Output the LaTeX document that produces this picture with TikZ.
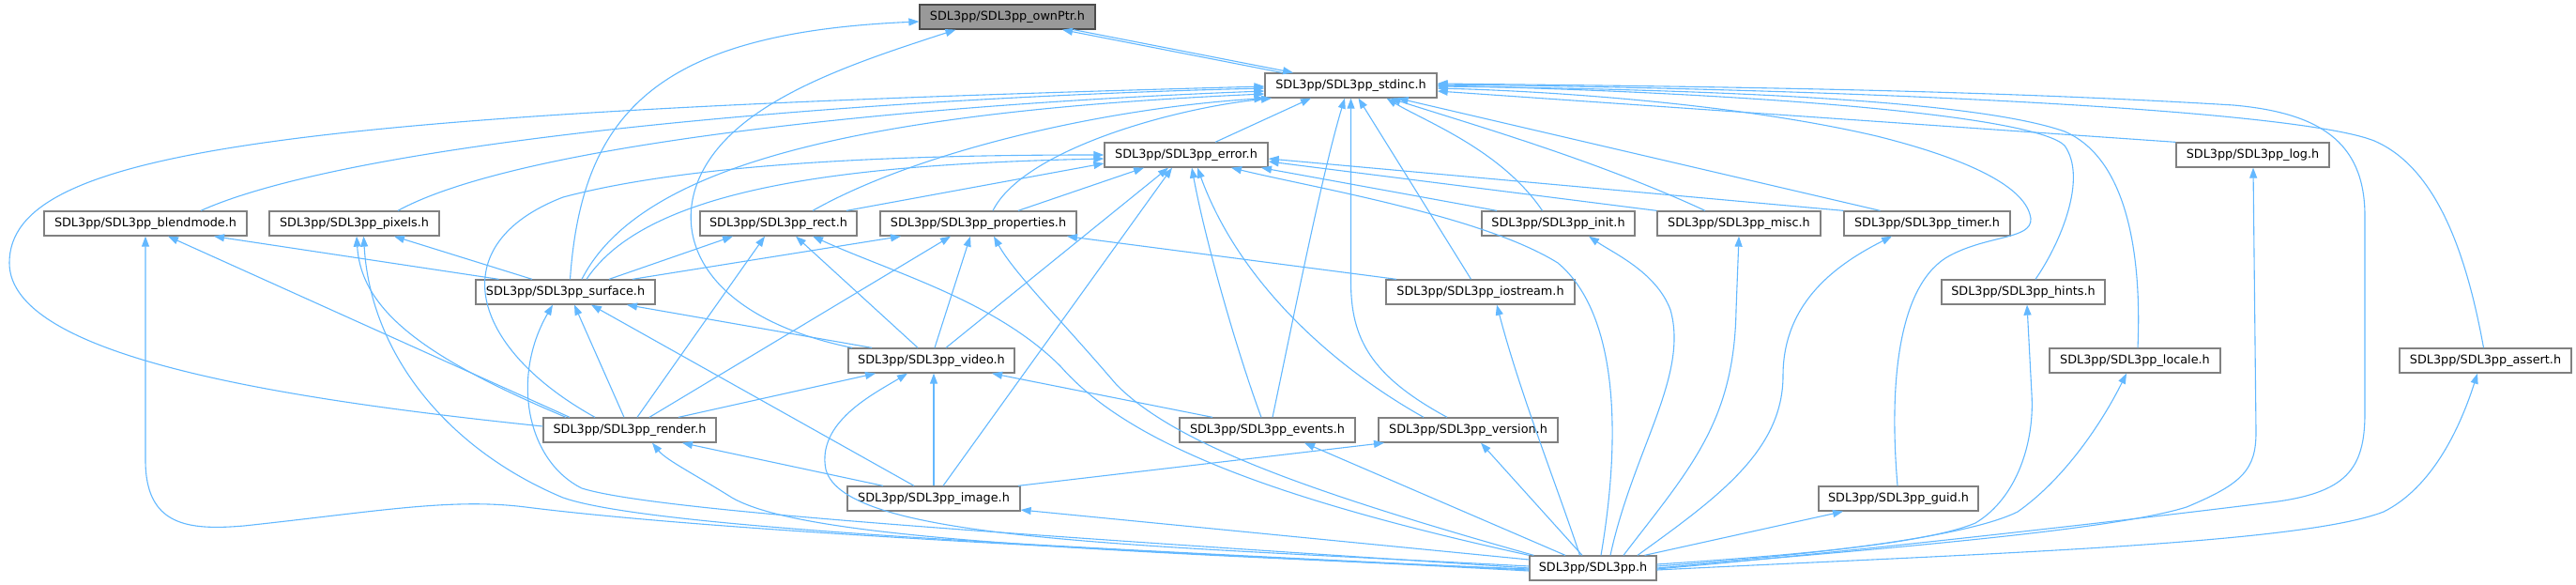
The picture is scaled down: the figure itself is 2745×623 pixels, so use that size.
\documentclass[tikz,border=0pt]{standalone}
\usepackage{fontspec}
\setmainfont{DejaVu Sans}
\usetikzlibrary{arrows.meta}
\definecolor{edgeblue}{HTML}{63B8FF}
\definecolor{boxgray}{HTML}{808080}
\definecolor{rootfill}{HTML}{999999}
\tikzset{
  hbox/.style={draw=boxgray, fill=white, line width=1.3pt, minimum height=26pt, inner sep=0pt, font=\fontsize{12.8}{15}\selectfont},
  rootbox/.style={hbox, fill=rootfill, draw=gray!60!black},
  e/.style={draw=edgeblue, line width=1.1pt, -{Triangle[length=11pt,width=8pt]}},
}
\begin{document}
\begin{tikzpicture}[x=1pt,y=-1pt]
\useasboundingbox (0,0) rectangle (2745,623);
% nodes
\node[rootbox, minimum width=187pt] (ownPtr) at (1073.5,18) {SDL3pp/SDL3pp\_ownPtr.h};
\node[hbox, minimum width=183pt] (stdinc) at (1439.5,91) {SDL3pp/SDL3pp\_stdinc.h};
\node[hbox, minimum width=174pt] (error) at (1264,165) {SDL3pp/SDL3pp\_error.h};
\node[hbox, minimum width=163pt] (log) at (2400.5,165) {SDL3pp/SDL3pp\_log.h};
\node[hbox, minimum width=216pt] (blendmode) at (155,238) {SDL3pp/SDL3pp\_blendmode.h};
\node[hbox, minimum width=181pt] (pixels) at (377.5,238) {SDL3pp/SDL3pp\_pixels.h};
\node[hbox, minimum width=167pt] (rect) at (829.5,238) {SDL3pp/SDL3pp\_rect.h};
\node[hbox, minimum width=209pt] (properties) at (1042.5,238) {SDL3pp/SDL3pp\_properties.h};
\node[hbox, minimum width=163pt] (init) at (1660.5,238) {SDL3pp/SDL3pp\_init.h};
\node[hbox, minimum width=174pt] (misc) at (1853,238) {SDL3pp/SDL3pp\_misc.h};
\node[hbox, minimum width=177pt] (timer) at (2053.5,238) {SDL3pp/SDL3pp\_timer.h};
\node[hbox, minimum width=191pt] (surface) at (602.5,311) {SDL3pp/SDL3pp\_surface.h};
\node[hbox, minimum width=201pt] (iostream) at (1577.5,311) {SDL3pp/SDL3pp\_iostream.h};
\node[hbox, minimum width=174pt] (hints) at (2156,311) {SDL3pp/SDL3pp\_hints.h};
\node[hbox, minimum width=177pt] (video) at (992.5,384) {SDL3pp/SDL3pp\_video.h};
\node[hbox, minimum width=182pt] (locale) at (2275,384) {SDL3pp/SDL3pp\_locale.h};
\node[hbox, minimum width=183pt] (assert) at (2648.5,384) {SDL3pp/SDL3pp\_assert.h};
\node[hbox, minimum width=184pt] (render) at (671,458) {SDL3pp/SDL3pp\_render.h};
\node[hbox, minimum width=187pt] (events) at (1350.5,458) {SDL3pp/SDL3pp\_events.h};
\node[hbox, minimum width=191pt] (version) at (1564.5,458) {SDL3pp/SDL3pp\_version.h};
\node[hbox, minimum width=184pt] (image) at (995,531) {SDL3pp/SDL3pp\_image.h};
\node[hbox, minimum width=170pt] (guid) at (2023,531) {SDL3pp/SDL3pp\_guid.h};
\node[hbox, minimum width=135pt] (sdl) at (1697.5,605) {SDL3pp/SDL3pp.h};

% ownPtr / stdinc
\draw[e] ([xshift=-73.5pt]stdinc.north) -- ([xshift=58.5pt]ownPtr.south);
\draw[e] ([xshift=70.5pt]ownPtr.south) -- ([xshift=-61.5pt]stdinc.north);
\draw[e] ([xshift=5pt]surface.north) .. controls (620,120) and (700,35) .. ([yshift=-5pt]ownPtr.west);
\draw[e] ([xshift=-84.5pt]video.north) .. controls (760,340) and (715,260) .. (745,190) .. controls (780,110) and (900,70) .. ([xshift=-55pt]ownPtr.south);

% to stdinc
\draw[e] ([yshift=4pt]render.west) .. controls (300,425) and (10,380) .. (10,280) .. controls (10,160) and (300,120) .. ([yshift=-1pt]stdinc.west);
\draw[e] ([xshift=59pt]blendmode.north) .. controls (380,150) and (900,105) .. ([yshift=-3pt]stdinc.west);
\draw[e] ([xshift=46.5pt]pixels.north) .. controls (560,150) and (1000,110) .. ([yshift=-6pt]stdinc.west);
\draw[e] ([xshift=17.5pt]surface.north) .. controls (680,180) and (900,120) .. ([yshift=-9pt]stdinc.west);
\draw[e] ([xshift=36.5pt]rect.north) .. controls (980,160) and (1180,115) .. (stdinc.south west);
\draw[e] ([xshift=15.5pt]properties.north) .. controls (1090,160) and (1250,115) .. ([xshift=-84.5pt]stdinc.south);
\draw[e] ([xshift=31pt]error.north) -- ([xshift=-42.5pt]stdinc.south);
\draw[e] ([xshift=5.5pt]events.north) .. controls (1380,330) and (1410,180) .. ([xshift=-6.5pt]stdinc.south);
\draw[e] ([xshift=-22.5pt]version.north) .. controls (1460,400) and (1439.5,360) .. (1439.5,300) -- (stdinc.south);
\draw[e] ([xshift=-10pt]iostream.north) -- ([xshift=8pt]stdinc.south);
\draw[e] ([xshift=-17pt]init.north) .. controls (1600,160) and (1520,130) .. ([xshift=38pt]stdinc.south);
\draw[e] ([xshift=-36pt]misc.north) .. controls (1700,170) and (1560,130) .. ([xshift=42pt]stdinc.south);
\draw[e] ([xshift=-50pt]timer.north) -- ([xshift=50pt]stdinc.south);
\draw[e] (log.north west) -- ([yshift=-6pt]stdinc.east);
\draw[e] ([xshift=13pt]hints.north) .. controls (2195,260) and (2225,190) .. (2200,155) .. controls (2170,125) and (1900,100) .. (stdinc.east);
\draw[e] ([xshift=3pt]locale.north) .. controls (2282,280) and (2270,170) .. (2200,140) .. controls (2100,105) and (1800,95) .. ([yshift=-1pt]stdinc.east);
\draw[e] ([yshift=-1pt]sdl.east) .. controls (2000,585) and (2300,550) .. (2420,535) .. controls (2500,525) and (2520,500) .. (2520,440) -- (2520,230) .. controls (2520,150) and (2470,120) .. (2380,112) .. controls (2100,95) and (1800,92) .. ([yshift=2pt]stdinc.east);
\draw[e] ([xshift=-2pt]assert.north) .. controls (2630,280) and (2600,180) .. (2530,150) .. controls (2450,118) and (2000,95) .. ([yshift=1pt]stdinc.east);
\draw[e] ([xshift=-1pt]guid.north) .. controls (2012,400) and (2025,300) .. (2078,272) .. controls (2120,250) and (2165,255) .. (2164,233) .. controls (2160,200) and (2100,170) .. (2000,145) .. controls (1850,110) and (1650,97) .. ([yshift=-3pt]stdinc.east);

% to error
\draw[e] ([xshift=72.5pt]rect.north) -- ([yshift=-9pt]error.west);
\draw[e] ([xshift=42.5pt]properties.north) -- ([xshift=-45pt]error.south);
\draw[e] ([xshift=22.5pt]surface.north) .. controls (690,200) and (900,175) .. ([yshift=-4pt]error.west);
\draw[e] ([xshift=-37pt]render.north) .. controls (500,370) and (470,260) .. (600,210) .. controls (750,170) and (1000,165) .. (error.west);
\draw[e] ([xshift=15.5pt]video.north) -- ([xshift=-19pt]error.south);
\draw[e] ([xshift=10pt]image.north) -- ([xshift=-15pt]error.south);
\draw[e] ([xshift=-6.5pt]events.north) .. controls (1320,380) and (1285,260) .. ([xshift=6pt]error.south);
\draw[e] ([xshift=-47.5pt]version.north) .. controls (1420,390) and (1320,300) .. ([xshift=12pt]error.south);
\draw[e] ([xshift=-65.5pt]init.north) -- ([xshift=80pt]error.south);
\draw[e] (misc.north west) -- ([yshift=-7pt]error.east);
\draw[e] (timer.north west) -- ([yshift=-4pt]error.east);
\draw[e] ([xshift=8.5pt]sdl.north) .. controls (1730,450) and (1720,330) .. (1660,280) .. controls (1580,230) and (1400,200) .. ([xshift=48pt]error.south);

% to blendmode
\draw[e] ([xshift=-71pt]surface.north) -- ([xshift=73pt]blendmode.south);
\draw[e] ([xshift=-64pt]render.north) -- ([xshift=24pt]blendmode.south);
\draw[e] ([yshift=-3pt]sdl.west) .. controls (1300,590) and (800,570) .. (560,540) .. controls (480,530) and (400,545) .. (260,560) .. controls (200,565) and (155,560) .. (155,490) -- (blendmode.south);

% to pixels
\draw[e] ([xshift=-35.5pt]surface.north) -- ([xshift=42.5pt]pixels.south);
\draw[e] ([xshift=-68pt]render.north) .. controls (450,380) and (385,330) .. ([xshift=2.5pt]pixels.south);
\draw[e] ([yshift=-2pt]sdl.west) .. controls (1200,585) and (700,565) .. (600,530) .. controls (480,480) and (395,380) .. ([xshift=10pt]pixels.south);

% to rect
\draw[e] ([xshift=46.5pt]surface.north) -- ([xshift=-48.5pt]rect.south);
\draw[e] ([xshift=8pt]render.north) -- ([xshift=-14.5pt]rect.south);
\draw[e] ([xshift=-14.5pt]video.north) -- ([xshift=18.5pt]rect.south);
\draw[e] (sdl.north west) .. controls (1350,530) and (1200,470) .. (1130,390) .. controls (1060,320) and (950,290) .. ([xshift=36.5pt]rect.south);

% to properties
\draw[e] ([xshift=71.5pt]surface.north) -- ([xshift=-82.5pt]properties.south);
\draw[e] ([xshift=21pt]render.north) -- ([xshift=-29.5pt]properties.south);
\draw[e] ([xshift=3.5pt]video.north) -- ([xshift=-8.5pt]properties.south);
\draw[e] ([xshift=-89.5pt]iostream.north) -- ([xshift=94.5pt]properties.south);
\draw[e] ([xshift=5pt]sdl.north west) .. controls (1380,520) and (1250,470) .. (1190,410) .. controls (1130,340) and (1080,290) .. ([xshift=16.5pt]properties.south);

% to surface
\draw[e] ([xshift=-6pt]render.north) -- ([xshift=9.5pt]surface.south);
\draw[e] ([xshift=-63.5pt]video.north) -- ([xshift=65.5pt]surface.south);
\draw[e] ([xshift=-21pt]image.north) -- ([xshift=27.5pt]surface.south);
\draw[e] (sdl.west) .. controls (1100,570) and (700,545) .. (620,520) .. controls (560,490) and (545,400) .. ([xshift=-13.5pt]surface.south);

% to video
\draw[e] ([xshift=52pt]render.north) -- ([xshift=-59.5pt]video.south);
\draw[e] (image.north) -- ([xshift=2.5pt]video.south);
\draw[e] ([xshift=-58.5pt]events.north) -- ([xshift=64.5pt]video.south);
\draw[e] ([yshift=2pt]sdl.west) .. controls (1200,580) and (900,575) .. (880,500) .. controls (870,450) and (930,420) .. ([xshift=-25.5pt]video.south);

% to render
\draw[e] ([xshift=-54pt]image.north) -- ([xshift=56pt]render.south);
\draw[e] ([yshift=-1pt]sdl.west) .. controls (1100,585) and (850,570) .. (780,530) .. controls (740,505) and (710,490) .. ([xshift=24pt]render.south);

% image, events, version
\draw[e] ([yshift=9pt]sdl.west) -- ([yshift=-12pt]image.east);
\draw[e] ([xshift=90pt]image.north) -- ([xshift=-89.5pt]version.south);
\draw[e] ([xshift=-29.5pt]sdl.north) -- ([xshift=39.5pt]events.south);
\draw[e] ([xshift=-11.5pt]sdl.north) -- ([xshift=13.5pt]version.south);

% sdl to the right-hand headers
\draw[e] ([xshift=-14pt]sdl.north) .. controls (1660,520) and (1620,420) .. ([xshift=17.5pt]iostream.south);
\draw[e] ([xshift=18.5pt]sdl.north) .. controls (1740,480) and (1800,400) .. (1780,330) .. controls (1765,290) and (1720,270) .. ([xshift=32.5pt]init.south);
\draw[e] ([xshift=32.5pt]sdl.north) .. controls (1800,500) and (1848,450) .. (1850,330) -- (misc.south);
\draw[e] ([xshift=47.5pt]sdl.north) .. controls (1830,530) and (1900,480) .. (1900,400) .. controls (1900,320) and (1960,280) .. ([xshift=-37.5pt]timer.south);
\draw[e] ([xshift=55pt]sdl.north) -- ([xshift=-59pt]guid.south);
\draw[e] ([yshift=4pt]sdl.east) .. controls (1900,592) and (2050,580) .. (2105,557) .. controls (2150,530) and (2168,470) .. (2165,420) -- ([xshift=4pt]hints.south);
\draw[e] ([yshift=2pt]sdl.east) .. controls (1950,590) and (2100,570) .. (2150,545) .. controls (2200,510) and (2240,450) .. ([xshift=-9pt]locale.south);
\draw[e] (sdl.east) .. controls (2000,585) and (2250,565) .. (2330,540) .. controls (2390,515) and (2404,500) .. (2404,460) -- ([xshift=0.5pt]log.south);
\draw[e] ([yshift=-2pt]sdl.east) .. controls (2100,590) and (2450,580) .. (2540,545) .. controls (2590,520) and (2620,460) .. ([xshift=-8.5pt]assert.south);
\end{tikzpicture}
\end{document}
